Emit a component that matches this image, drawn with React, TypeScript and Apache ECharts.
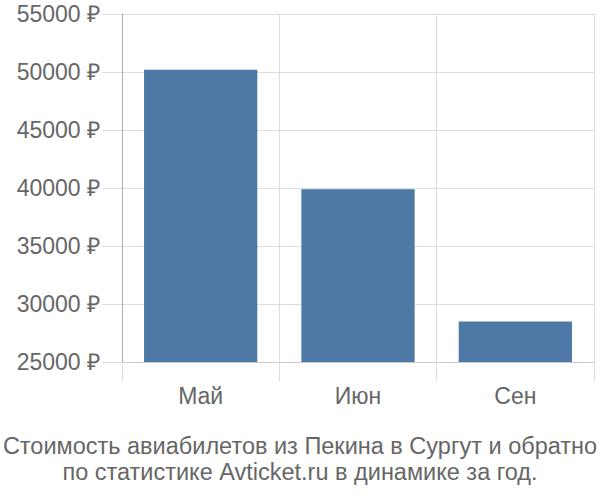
import React, { useEffect, useRef } from "react";
import * as echarts from "echarts";

const categories = ["Май", "Июн", "Сен"];
const prices = [50200, 39900, 28500];
const titleLines = [
  "Стоимость авиабилетов из Пекина в Сургут и обратно",
  "по статистике Avticket.ru в динамике за год.",
];

export default function App() {
  const ref = useRef<HTMLDivElement>(null);
  useEffect(() => {
    if (!ref.current) return;
    document.body.style.margin = "0";
    const chart = echarts.init(ref.current, undefined, { renderer: "svg" });
    const font = "'Liberation Sans', Arial, sans-serif";
    chart.setOption({
      animation: false,
      textStyle: { fontFamily: font },
      grid: { left: 122, right: 6, top: 14, bottom: 138, containLabel: false },
      xAxis: {
        type: "category",
        data: categories,
        axisLine: { show: true, lineStyle: { color: "#cccccc", width: 1 } },
        axisTick: { show: true, length: 19, lineStyle: { color: "#dddddd" } },
        splitLine: { show: true, lineStyle: { color: "#dddddd" } },
        axisLabel: { color: "#666666", fontSize: 23, margin: 22, fontFamily: font },
      },
      yAxis: {
        type: "value",
        min: 25000,
        max: 55000,
        interval: 5000,
        axisLine: { show: true, lineStyle: { color: "#aaaaaa" } },
        axisTick: { show: true, length: 20, lineStyle: { color: "#dddddd" } },
        splitLine: { show: true, lineStyle: { color: "#dddddd" } },
        axisLabel: {
          color: "#666666",
          fontSize: 23,
          margin: 22,
          fontFamily: font,
          formatter: (v: number) => v + " ₽",
        },
      },
      graphic: [
        {
          type: "line",
          shape: { x1: 122.5, y1: 362, x2: 122.5, y2: 381 },
          style: { stroke: "#aaaaaa", lineWidth: 1 },
        },
        ...titleLines.map((t, i) => ({
          type: "text",
          left: "center",
          top: 434 + i * 26,
          style: {
            text: t,
            fill: "#666666",
            fontSize: 23.5,
            fontFamily: font,
          },
        })),
      ],
      series: [
        {
          type: "bar",
          data: prices,
          barCategoryGap: "28%",
          itemStyle: { color: "#4e79a7" },
        },
      ],
    });
    return () => chart.dispose();
  }, []);
  return <div ref={ref} style={{ width: 600, height: 500 }} />;
}
